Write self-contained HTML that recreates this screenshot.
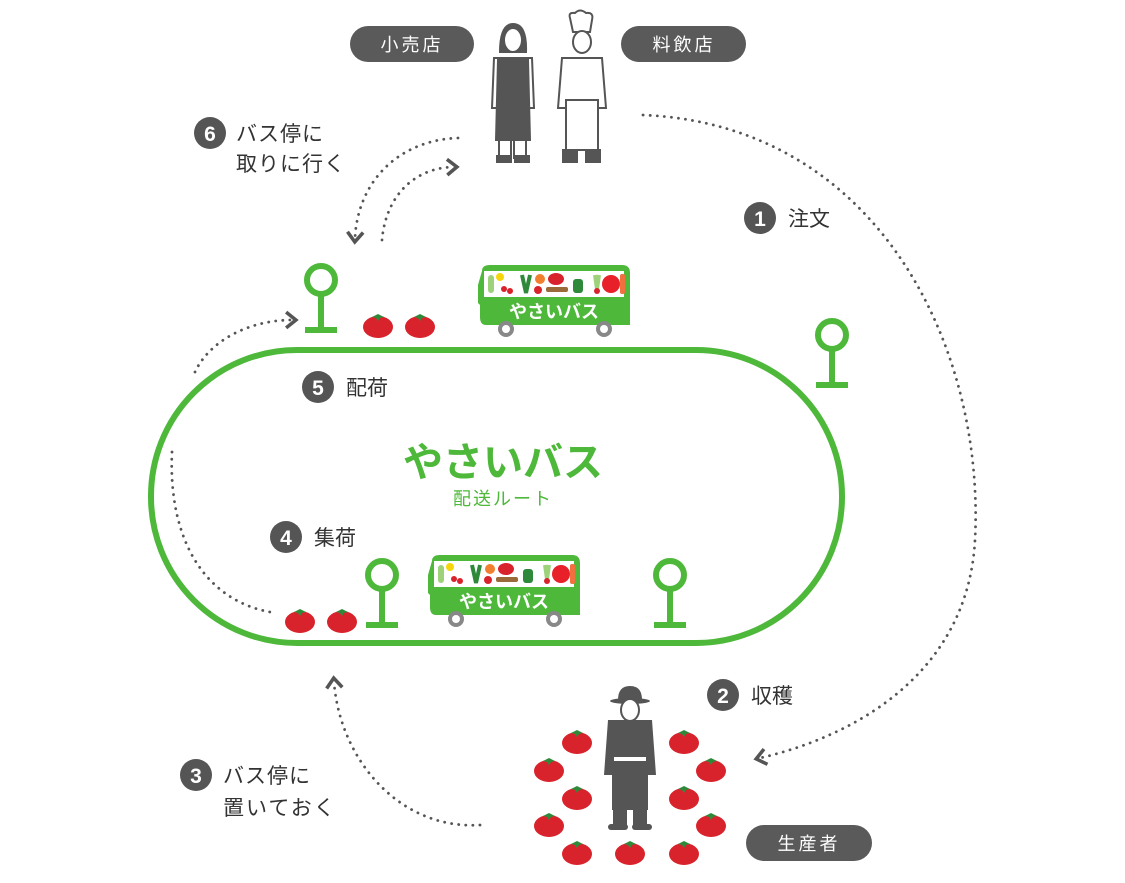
<!DOCTYPE html>
<html><head><meta charset="utf-8"><style>
html,body{margin:0;padding:0;background:#fff;}
svg{display:block;}
text{font-family:"Liberation Sans","Noto Sans CJK JP",sans-serif;}
</style></head><body>
<svg width="1125" height="883" viewBox="0 0 1125 883" xmlns="http://www.w3.org/2000/svg">
<defs>
<g id="tom"><ellipse cx="0" cy="2" rx="15" ry="11" fill="#d9232c"/><path d="M-6,-8 L0,-11 L6,-8 L2,-7 L0,-4 L-2,-7 Z" fill="#2e8a3a"/></g>
<g id="bus">
<path d="M4,6 Q4,0 12,0 H144 Q152,0 152,8 V60 H8 Q2,60 2,52 V40 L0,38 V20 Z" fill="#4db83a"/>
<rect x="6" y="6" width="140" height="26" fill="#fff"/>
<g>
<rect x="10" y="10" width="6" height="18" rx="3" fill="#9ed27a"/>
<circle cx="22" cy="12" r="4" fill="#f5d60a"/><circle cx="26" cy="24" r="3" fill="#d9232c"/><circle cx="32" cy="26" r="3" fill="#d9232c"/>
<path d="M44,10 L48,28 L52,10" stroke="#2e8a3a" stroke-width="4" fill="none"/>
<circle cx="62" cy="14" r="5" fill="#f08030"/><circle cx="60" cy="25" r="4" fill="#d9232c"/>
<ellipse cx="78" cy="14" rx="8" ry="6" fill="#d9232c"/><rect x="68" y="22" width="22" height="5" rx="2" fill="#9a6a3a"/>
<rect x="95" y="14" width="10" height="14" rx="3" fill="#2e8a3a"/>
<path d="M117,10 L119,24 L121,10" stroke="#9ed27a" stroke-width="4" fill="none"/><circle cx="119" cy="26" r="3" fill="#d9232c"/>
<circle cx="133" cy="19" r="9" fill="#e8202a"/><rect x="142" y="9" width="5" height="20" rx="2" fill="#f07040"/>
</g>
<text x="76" y="53" font-size="18" font-weight="bold" fill="#fff" text-anchor="middle">やさいバス</text>
<circle cx="28" cy="64" r="8" fill="#888"/><circle cx="28" cy="64" r="4" fill="#fff"/>
<circle cx="126" cy="64" r="8" fill="#888"/><circle cx="126" cy="64" r="4" fill="#fff"/>
</g>
<g id="stop"><circle cx="0" cy="0" r="14" fill="none" stroke="#4db83a" stroke-width="6"/><line x1="0" y1="14" x2="0" y2="50" stroke="#4db83a" stroke-width="6"/><line x1="-16" y1="50" x2="16" y2="50" stroke="#4db83a" stroke-width="6"/></g>
<marker id="ar" viewBox="0 0 10 10" refX="5" refY="5" markerWidth="7" markerHeight="7" orient="auto"><path d="M2,1 L7,5 L2,9" fill="none" stroke="#555" stroke-width="1.8"/></marker>
</defs>

<rect x="151" y="350" width="691" height="293" rx="146" fill="none" stroke="#4db83a" stroke-width="6"/>
<text x="503" y="476" font-size="40" font-weight="bold" fill="#4db83a" text-anchor="middle">やさいバス</text>
<text x="503" y="505" font-size="18" fill="#4db83a" text-anchor="middle" letter-spacing="2">配送ルート</text>

<g fill="none" stroke="#555" stroke-width="2.8" stroke-dasharray="0.1 7" stroke-linecap="round">
<path d="M643,115 C880,125 985,350 975,540 C968,670 860,735 760,758" marker-end="url(#ar)"/>
<path d="M458,138 C400,140 358,180 355,238" marker-end="url(#ar)"/>
<path d="M382,240 C386,195 415,168 453,167" marker-end="url(#ar)"/>
<path d="M195,372 C210,340 250,320 292,320" marker-end="url(#ar)"/>
<path d="M172,452 C168,540 205,600 270,612"/>
<path d="M480,825 C400,830 340,760 334,682" marker-end="url(#ar)"/>
</g>

<rect x="350" y="26" width="124" height="36" rx="18" fill="#5a5a5a"/>
<text x="412" y="51" font-size="18" fill="#fff" text-anchor="middle" letter-spacing="3">小売店</text>
<rect x="621" y="26" width="125" height="36" rx="18" fill="#5a5a5a"/>
<text x="684" y="51" font-size="18" fill="#fff" text-anchor="middle" letter-spacing="3">料飲店</text>
<rect x="746" y="825" width="126" height="36" rx="18" fill="#5a5a5a"/>
<text x="809" y="850" font-size="18" fill="#fff" text-anchor="middle" letter-spacing="3">生産者</text>

<g stroke="#555" stroke-width="2" fill="#fff">
<path d="M500,52 Q500,24 513,24 Q527,24 526,52 Z" fill="#555"/>
<ellipse cx="513" cy="40" rx="9" ry="12"/>
<path d="M494,58 L532,58 L534,108 L492,108 Z"/>
<path d="M498,60 L528,60 L530,140 L496,140 Z" fill="#555"/>
<rect x="499" y="140" width="12" height="18"/><rect x="514" y="140" width="12" height="18"/>
<rect x="497" y="156" width="14" height="6" fill="#555"/><rect x="515" y="156" width="14" height="6" fill="#555"/>
<path d="M570,18 Q568,12 575,13 Q580,8 586,13 Q594,12 592,20 L590,32 L573,32 Z"/>
<ellipse cx="582" cy="42" rx="9" ry="11"/>
<path d="M562,58 L602,58 L606,108 L558,108 Z"/>
<rect x="566" y="100" width="32" height="50"/>
<rect x="563" y="150" width="14" height="12" fill="#555"/><rect x="586" y="150" width="14" height="12" fill="#555"/>
</g>

<g fill="#555">
<ellipse cx="630" cy="701" rx="20" ry="3"/><path d="M618,700 Q618,686 630,686 Q642,686 642,700 Z"/>
<ellipse cx="630" cy="710" rx="9" ry="11" fill="#fff" stroke="#555" stroke-width="2"/>
<path d="M608,720 L652,720 L656,775 L648,775 L648,810 L612,810 L612,775 L604,775 Z"/>
<rect x="613" y="806" width="14" height="22"/><rect x="633" y="806" width="14" height="22"/>
<rect x="608" y="824" width="20" height="6" rx="3"/><rect x="632" y="824" width="20" height="6" rx="3"/>
<rect x="614" y="757" width="32" height="4" fill="#fff"/>
</g>

<use href="#tom" x="378" y="325"/><use href="#tom" x="420" y="325"/>
<use href="#tom" x="300" y="620"/><use href="#tom" x="342" y="620"/>
<use href="#tom" x="577" y="741"/><use href="#tom" x="549" y="769"/><use href="#tom" x="577" y="797"/><use href="#tom" x="549" y="824"/><use href="#tom" x="577" y="852"/><use href="#tom" x="630" y="852"/><use href="#tom" x="684" y="852"/><use href="#tom" x="711" y="824"/><use href="#tom" x="684" y="797"/><use href="#tom" x="711" y="769"/><use href="#tom" x="684" y="741"/>

<use href="#stop" x="321" y="280"/><use href="#stop" x="832" y="335"/>
<use href="#stop" x="382" y="575"/><use href="#stop" x="670" y="575"/>

<use href="#bus" x="478" y="265"/><use href="#bus" x="428" y="555"/>

<g font-size="21" fill="#333">
<circle cx="210" cy="133" r="16" fill="#555"/><text x="210" y="141" fill="#fff" font-weight="bold" text-anchor="middle">6</text>
<text x="236" y="141" letter-spacing="1">バス停に</text><text x="236" y="171" letter-spacing="1">取りに行く</text>
<circle cx="760" cy="218" r="16" fill="#555"/><text x="760" y="226" fill="#fff" font-weight="bold" text-anchor="middle">1</text>
<text x="788" y="226">注文</text>
<circle cx="318" cy="387" r="16" fill="#555"/><text x="318" y="395" fill="#fff" font-weight="bold" text-anchor="middle">5</text>
<text x="346" y="395">配荷</text>
<circle cx="286" cy="537" r="16" fill="#555"/><text x="286" y="545" fill="#fff" font-weight="bold" text-anchor="middle">4</text>
<text x="314" y="545">集荷</text>
<circle cx="723" cy="695" r="16" fill="#555"/><text x="723" y="703" fill="#fff" font-weight="bold" text-anchor="middle">2</text>
<text x="751" y="703">収穫</text>
<circle cx="196" cy="775" r="16" fill="#555"/><text x="196" y="783" fill="#fff" font-weight="bold" text-anchor="middle">3</text>
<text x="223" y="783" letter-spacing="1">バス停に</text><text x="223" y="815" letter-spacing="2">置いておく</text>
</g>
</svg>
</body></html>
